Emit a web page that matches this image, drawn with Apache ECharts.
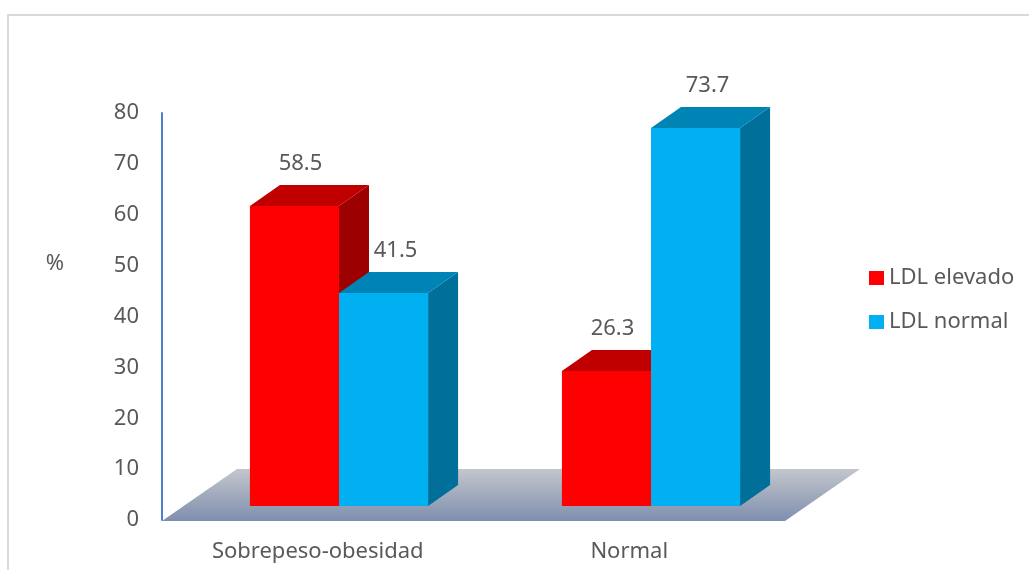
<!DOCTYPE html>
<html>
<head>
<meta charset="utf-8">
<script src="https://cdn.jsdelivr.net/npm/echarts@6/dist/echarts.min.js"></script>
<style>html,body{margin:0;padding:0;background:#fff}#c{width:1029px;height:570px}</style>
</head>
<body>
<div id="c"></div>
<script>
var categories = ['Sobrepeso-obesidad', 'Normal'];
var ldlElevado = [58.5, 26.3];
var ldlNormal = [41.5, 73.7];
var seriesNames = ['LDL elevado', 'LDL normal'];
var yTicks = [0, 10, 20, 30, 40, 50, 60, 70, 80];

var FONT = '"Noto Sans", "Open Sans", sans-serif';
var FS = 22;
var TXT = '#595959';
var DX = 30, DY = -21;

function makeBar(slot, front, topC, sideC, labelDx) {
  return function (params, api) {
    var cat = api.value(0), val = api.value(1);
    var pTop = api.coord([cat, val]);
    var pBase = api.coord([cat, 0]);
    var band = api.size([1, 0])[0];
    var w = band * 0.2855;
    var x0 = pTop[0] + slot * w;
    var x1 = x0 + w;
    var yt = pTop[1], yb = pBase[1];
    return {
      type: 'group',
      children: [
        { type: 'polygon', shape: { points: [[x1, yb], [x1 + DX, yb + DY], [x1 + DX, yt + DY], [x1, yt]] }, style: { fill: sideC } },
        { type: 'polygon', shape: { points: [[x0, yt], [x0 + DX, yt + DY], [x1 + DX, yt + DY], [x1, yt]] }, style: { fill: topC } },
        { type: 'rect', shape: { x: x0, y: yt, width: w, height: yb - yt }, style: { fill: front } },
        { type: 'text', style: { text: String(val), x: (x0 + x1) / 2 + labelDx, y: yt + DY - 21, align: 'center', verticalAlign: 'middle', fill: TXT, font: FS + 'px ' + FONT } }
      ]
    };
  };
}

function floorRender(params, api) {
  var cs = params.coordSys;
  var fy = cs.y + cs.height + 1;
  var fx0 = cs.x, fx1 = cs.x + cs.width;
  var ddx = 75, ddy = -52;
  return {
    type: 'polygon',
    shape: { points: [[fx0, fy], [fx0 + ddx, fy + ddy], [fx1 + ddx, fy + ddy], [fx1, fy]] },
    style: {
      fill: new echarts.graphic.LinearGradient(0, 0, 0, 1, [
        { offset: 0, color: '#c3c6cc' },
        { offset: 1, color: '#7e8fae' }
      ])
    }
  };
}

var chart = echarts.init(document.getElementById('c'), null, { renderer: 'canvas' });
chart.setOption({
  animation: false,
  backgroundColor: '#ffffff',
  graphic: [
    { type: 'rect', shape: { x: 8, y: 15, width: 1100, height: 600 }, style: { fill: 'none', stroke: '#d9d9d9', lineWidth: 2 }, z: 0 },
    { type: 'text', style: { text: '%', x: 55, y: 264, align: 'center', verticalAlign: 'middle', fill: TXT, font: FS + 'px ' + FONT } }
  ],
  legend: {
    data: seriesNames,
    orient: 'vertical',
    left: 864,
    top: 262,
    icon: 'rect',
    itemWidth: 15,
    itemHeight: 14,
    itemGap: 22,
    textStyle: { color: TXT, fontSize: FS, fontFamily: FONT }
  },
  grid: [
    { left: 162, top: 113, width: 623, height: 407 },
    { left: 183, top: 95.6, width: 624, height: 410.4 }
  ],
  xAxis: [
    { type: 'category', gridIndex: 0, data: categories, axisLine: { show: false }, axisTick: { show: false },
      axisLabel: { color: TXT, fontSize: FS, fontFamily: FONT, margin: 21 } },
    { type: 'category', gridIndex: 1, data: categories, show: false }
  ],
  yAxis: [
    { type: 'value', gridIndex: 0, min: 0, max: 80, interval: 10,
      axisLine: { show: true, lineStyle: { color: '#4f7fd0', width: 2 } },
      axisTick: { show: false }, splitLine: { show: false },
      axisLabel: { color: TXT, fontSize: FS, fontFamily: FONT, margin: 23 } },
    { type: 'value', gridIndex: 1, min: 0, max: 80, show: false, splitLine: { show: false } }
  ],
  series: [
    { type: 'custom', name: 'floor', xAxisIndex: 0, yAxisIndex: 0, renderItem: floorRender, data: [[0, 0]], silent: true, z: 1 },
    { type: 'custom', name: seriesNames[0], xAxisIndex: 1, yAxisIndex: 1, itemStyle: { color: '#ff0000' },
      renderItem: makeBar(-1, '#ff0000', '#c00000', '#9c0000', 6),
      data: ldlElevado.map(function (v, i) { return [i, v]; }), z: 2 },
    { type: 'custom', name: seriesNames[1], xAxisIndex: 1, yAxisIndex: 1, itemStyle: { color: '#00b0f0' },
      renderItem: makeBar(0, '#00b0f0', '#0084b5', '#006f99', 12),
      data: ldlNormal.map(function (v, i) { return [i, v]; }), z: 3 }
  ]
});
</script>
</body>
</html>
